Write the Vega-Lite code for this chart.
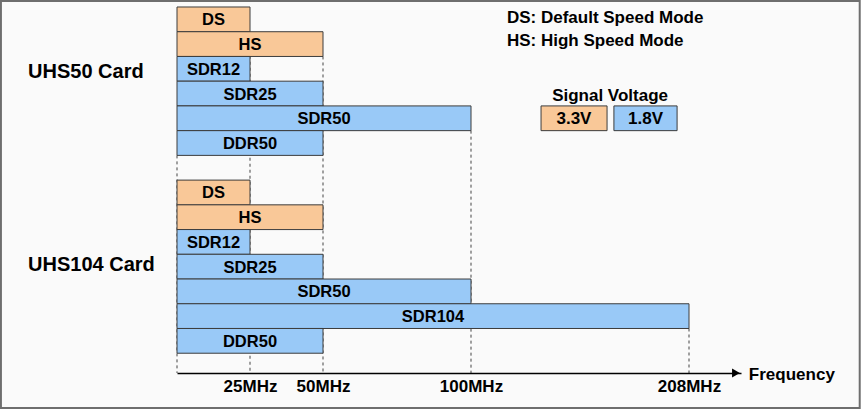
{
  "$schema": "https://vega.github.io/schema/vega-lite/v6.json",
  "width": 564,
  "height": 366,
  "autosize": {"type": "none"},
  "padding": {"left": 177, "top": 7, "right": 124, "bottom": 40},
  "background": "#ffffff",
  "config": {
    "view": {"stroke": null},
    "font": "Liberation Sans",
    "text": {"font": "Liberation Sans", "fontWeight": "bold", "color": "#000000"}
  },
  "datasets": {
    "bars": [
      {"card": "UHS50", "mode": "DS", "voltage": "3.3V", "mhz": 25, "row": 0},
      {"card": "UHS50", "mode": "HS", "voltage": "3.3V", "mhz": 50, "row": 1},
      {"card": "UHS50", "mode": "SDR12", "voltage": "1.8V", "mhz": 25, "row": 2},
      {"card": "UHS50", "mode": "SDR25", "voltage": "1.8V", "mhz": 50, "row": 3},
      {"card": "UHS50", "mode": "SDR50", "voltage": "1.8V", "mhz": 100, "row": 4},
      {"card": "UHS50", "mode": "DDR50", "voltage": "1.8V", "mhz": 50, "row": 5},
      {"card": "UHS104", "mode": "DS", "voltage": "3.3V", "mhz": 25, "row": 7},
      {"card": "UHS104", "mode": "HS", "voltage": "3.3V", "mhz": 50, "row": 8},
      {"card": "UHS104", "mode": "SDR12", "voltage": "1.8V", "mhz": 25, "row": 9},
      {"card": "UHS104", "mode": "SDR25", "voltage": "1.8V", "mhz": 50, "row": 10},
      {"card": "UHS104", "mode": "SDR50", "voltage": "1.8V", "mhz": 100, "row": 11},
      {"card": "UHS104", "mode": "SDR104", "voltage": "1.8V", "mhz": 208, "row": 12},
      {"card": "UHS104", "mode": "DDR50", "voltage": "1.8V", "mhz": 50, "row": 13}
    ],
    "grid": [
      {"mhz": 0, "row": 5},
      {"mhz": 25, "row": 0},
      {"mhz": 50, "row": 1},
      {"mhz": 100, "row": 4},
      {"mhz": 208, "row": 12}
    ]
  },
  "layer": [
    {
      "data": {"values": [{}]},
      "mark": {"type": "rect", "fill": "#fafafa", "stroke": "#6e6e6e", "strokeWidth": 2},
      "encoding": {
        "x": {
          "datum": -60.3, "type": "quantitative",
          "scale": {"domain": [0, 50, 100, 208, 233.8], "range": [0, 146, 294, 512, 564], "nice": false, "zero": false, "clamp": false},
          "axis": {
            "values": [25, 50, 100, 208],
            "labelExpr": "datum.value + 'MHz'",
            "ticks": false, "grid": false,
            "domainColor": "#000000", "domainWidth": 1.5,
            "labelFont": "Liberation Sans", "labelFontWeight": "bold", "labelFontSize": 17,
            "labelColor": "#000000", "labelPadding": 13, "labelBaseline": "middle",
            "labelOverlap": false, "labelFlush": false,
            "title": null, "zindex": 1
          }
        },
        "x2": {"datum": 292.7},
        "y": {
          "datum": -0.743, "type": "quantitative",
          "scale": {"domain": [-0.5, 14.3], "reverse": true, "nice": false, "zero": false},
          "axis": null
        },
        "y2": {"datum": 15.715}
      }
    },
    {
      "data": {"name": "grid"},
      "mark": {"type": "rule", "strokeDash": [3, 3], "color": "#444444", "strokeWidth": 1, "yOffset": 12.37},
      "encoding": {
        "x": {"field": "mhz", "type": "quantitative"},
        "y": {"field": "row", "type": "quantitative"},
        "y2": {"datum": 14.3}
      }
    },
    {
      "data": {"name": "bars"},
      "mark": {"type": "rect", "stroke": "#3c3c3c", "strokeWidth": 1, "yOffset": -12.37, "y2Offset": 12.37},
      "encoding": {
        "x": {"field": "mhz", "type": "quantitative"},
        "x2": {"datum": 0},
        "y": {"field": "row", "type": "quantitative"},
        "y2": {"field": "row"},
        "color": {
          "field": "voltage", "type": "nominal",
          "scale": {"domain": ["3.3V", "1.8V"], "range": ["#F9C898", "#99C9F7"]},
          "legend": null
        }
      }
    },
    {
      "data": {"name": "bars"},
      "mark": {"type": "text", "fontSize": 16.5, "baseline": "middle", "align": "center", "dy": 1},
      "encoding": {
        "x": {"value": {"expr": "scale('x', datum.mhz) / 2"}},
        "y": {"field": "row", "type": "quantitative"},
        "text": {"field": "mode", "type": "nominal"}
      }
    },
    {
      "data": {"values": [{}]},
      "mark": {"type": "point", "shape": "triangle-right", "filled": true, "size": 80, "color": "#000000", "opacity": 1},
      "encoding": {"x": {"datum": 231.3, "type": "quantitative"}, "y": {"datum": 14.3, "type": "quantitative"}}
    },
    {
      "data": {"values": [{}]},
      "mark": {"type": "text", "fontSize": 17, "align": "left", "baseline": "middle"},
      "encoding": {"x": {"datum": 237.7, "type": "quantitative"}, "y": {"datum": 14.38, "type": "quantitative"}, "text": {"value": "Frequency"}}
    },
    {
      "data": {"values": [{}]},
      "mark": {"type": "text", "fontSize": 20, "align": "left", "baseline": "middle"},
      "encoding": {"x": {"datum": -51, "type": "quantitative"}, "y": {"datum": 2.13, "type": "quantitative"}, "text": {"value": "UHS50 Card"}}
    },
    {
      "data": {"values": [{}]},
      "mark": {"type": "text", "fontSize": 20, "align": "left", "baseline": "middle"},
      "encoding": {"x": {"datum": -51, "type": "quantitative"}, "y": {"datum": 9.93, "type": "quantitative"}, "text": {"value": "UHS104 Card"}}
    },
    {
      "data": {"values": [{}]},
      "mark": {"type": "text", "fontSize": 17, "align": "left", "baseline": "middle"},
      "encoding": {"x": {"datum": 117.8, "type": "quantitative"}, "y": {"datum": -0.075, "type": "quantitative"}, "text": {"value": "DS: Default Speed Mode"}}
    },
    {
      "data": {"values": [{}]},
      "mark": {"type": "text", "fontSize": 17, "align": "left", "baseline": "middle"},
      "encoding": {"x": {"datum": 117.8, "type": "quantitative"}, "y": {"datum": 0.895, "type": "quantitative"}, "text": {"value": "HS: High Speed Mode"}}
    },
    {
      "data": {"values": [{}]},
      "mark": {"type": "text", "fontSize": 17, "align": "center", "baseline": "middle"},
      "encoding": {"x": {"datum": 168.9, "type": "quantitative"}, "y": {"datum": 3.1, "type": "quantitative"}, "text": {"value": "Signal Voltage"}}
    },
    {
      "data": {"values": [{}]},
      "mark": {"type": "rect", "stroke": "#3c3c3c", "strokeWidth": 1, "fill": "#F9C898"},
      "encoding": {
        "x": {"datum": 134.7, "type": "quantitative"}, "x2": {"datum": 167.4},
        "y": {"datum": 3.5, "type": "quantitative"}, "y2": {"datum": 4.5}
      }
    },
    {
      "data": {"values": [{}]},
      "mark": {"type": "rect", "stroke": "#3c3c3c", "strokeWidth": 1, "fill": "#99C9F7"},
      "encoding": {
        "x": {"datum": 170.8, "type": "quantitative"}, "x2": {"datum": 202.1},
        "y": {"datum": 3.5, "type": "quantitative"}, "y2": {"datum": 4.5}
      }
    },
    {
      "data": {"values": [{}]},
      "mark": {"type": "text", "fontSize": 17, "align": "center", "baseline": "middle", "dy": 1},
      "encoding": {"x": {"datum": 151.0, "type": "quantitative"}, "y": {"datum": 4.0, "type": "quantitative"}, "text": {"value": "3.3V"}}
    },
    {
      "data": {"values": [{}]},
      "mark": {"type": "text", "fontSize": 17, "align": "center", "baseline": "middle", "dy": 1},
      "encoding": {"x": {"datum": 186.45, "type": "quantitative"}, "y": {"datum": 4.0, "type": "quantitative"}, "text": {"value": "1.8V"}}
    }
  ]
}
